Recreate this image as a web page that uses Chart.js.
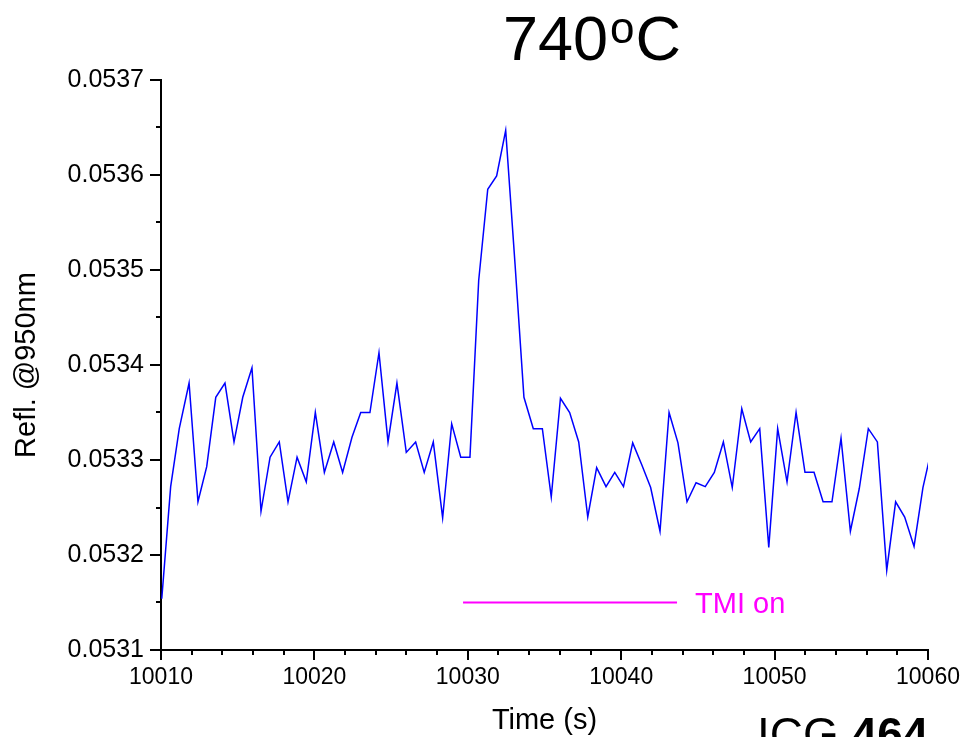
<!DOCTYPE html>
<html>
<head>
<meta charset="utf-8">
<title>740oC reflectance</title>
<script src="https://cdn.jsdelivr.net/npm/chart.js@4.4.1/dist/chart.umd.min.js"></script>
<style>
  html, body { margin: 0; padding: 0; background: #fff; }
  #wrap { width: 963px; height: 737px; position: relative; }
</style>
</head>
<body>
<div id="wrap"><canvas id="myChart"></canvas></div>
<script>
// time stamps (s) and reflectance at 950 nm
var times = [10010.05, 10010.63, 10011.19, 10011.83, 10012.41, 10012.98, 10013.57, 10014.17, 10014.76, 10015.33,
	10015.93, 10016.52, 10017.11, 10017.71, 10018.28, 10018.87, 10019.47, 10020.06, 10020.65, 10021.26,
	10021.84, 10022.45, 10023.02, 10023.62, 10024.21, 10024.80, 10025.38, 10025.99, 10026.60, 10027.16,
	10027.75, 10028.36, 10028.95, 10029.54, 10030.14, 10030.71, 10031.30, 10031.88, 10032.47, 10033.08,
	10033.66, 10034.27, 10034.86, 10035.44, 10036.04, 10036.64, 10037.23, 10037.82, 10038.40, 10039.01,
	10039.58, 10040.15, 10040.75, 10041.34, 10041.92, 10042.53, 10043.12, 10043.70, 10044.29, 10044.88,
	10045.48, 10046.07, 10046.66, 10047.24, 10047.86, 10048.44, 10049.03, 10049.62, 10050.20, 10050.81,
	10051.40, 10051.98, 10052.57, 10053.16, 10053.74, 10054.33, 10054.94, 10055.52, 10056.11, 10056.70,
	10057.31, 10057.89, 10058.48, 10059.09, 10059.67, 10060.26];
var refl = [0.053154, 0.053272, 0.053333, 0.053381, 0.053256, 0.053293, 0.053366, 0.053381, 0.053319, 0.053366,
	0.053397, 0.053246, 0.053303, 0.053319, 0.053256, 0.053303, 0.053277, 0.053350, 0.053287, 0.053319,
	0.053287, 0.053324, 0.053350, 0.053350, 0.053413, 0.053319, 0.053381, 0.053308, 0.053319, 0.053287,
	0.053319, 0.053239, 0.053338, 0.053303, 0.053303, 0.053489, 0.053585, 0.053599, 0.053647, 0.053506,
	0.053366, 0.053333, 0.053333, 0.053261, 0.053365, 0.053350, 0.053319, 0.053240, 0.053292, 0.053272,
	0.053287, 0.053272, 0.053318, 0.053295, 0.053271, 0.053225, 0.053350, 0.053318, 0.053256, 0.053276,
	0.053272, 0.053287, 0.053319, 0.053271, 0.053354, 0.053319, 0.053333, 0.053208, 0.053333, 0.053277,
	0.053350, 0.053287, 0.053287, 0.053256, 0.053256, 0.053323, 0.053225, 0.053270, 0.053333, 0.053319,
	0.053184, 0.053256, 0.053240, 0.053209, 0.053271, 0.053313];

// TMI marker bar
var tmiTimes = [10029.69, 10043.64];
var tmiLevel = [0.05315, 0.05315];

var xTickValues = [10010, 10020, 10030, 10040, 10050, 10060];
var yTickValues = [0.0531, 0.0532, 0.0533, 0.0534, 0.0535, 0.0536, 0.0537];

var FONT = "'Liberation Sans', Arial, Helvetica, sans-serif";

var series = times.map(function(t, i){ return { x: t, y: refl[i] }; });
var tmiLine = tmiTimes.map(function(t, i){ return { x: t, y: tmiLevel[i] }; });

// minor/major tick marks, titles and the TMI note
var extras = {
	id: 'extras',
	afterDraw: function(chart){
		var ctx = chart.ctx;
		var xs = chart.scales.x;
		var ys = chart.scales.y;
		var area = chart.chartArea;
		ctx.save();
		ctx.strokeStyle = '#000';
		ctx.lineWidth = 2;
		ctx.beginPath();
		for (var t = xs.min; t <= xs.max + 0.001; t += 2) {
			var px = Math.round(xs.getPixelForValue(t));
			var len = (Math.round(t) % 10 === 0) ? 10 : 5;
			ctx.moveTo(px, area.bottom);
			ctx.lineTo(px, area.bottom + len);
		}
		for (var i = 0; i <= 12; i++) {
			var py = Math.round(ys.getPixelForValue(ys.min + i * 0.00005));
			var ylen = (i % 2 === 0) ? 11 : 5;
			ctx.moveTo(area.left, py);
			ctx.lineTo(area.left - ylen, py);
		}
		ctx.stroke();

		ctx.fillStyle = '#000';
		ctx.textBaseline = 'alphabetic';

		// chart title 740oC
		ctx.textAlign = 'left';
		ctx.font = '63px ' + FONT;
		ctx.fillText('740', 503, 60);
		var w = ctx.measureText('740').width;
		ctx.font = '44px ' + FONT;
		ctx.fillText('o', 503 + w + 2, 43);
		var wo = ctx.measureText('o').width;
		ctx.font = '63px ' + FONT;
		ctx.fillText('C', 503 + w + wo + 3, 60);

		// axis titles
		ctx.font = '29px ' + FONT;
		ctx.textAlign = 'center';
		ctx.fillText('Time (s)', (area.left + area.right) / 2, 729);
		ctx.save();
		ctx.translate(35, (area.top + area.bottom) / 2);
		ctx.rotate(-Math.PI / 2);
		ctx.fillText('Refl. @950nm', 0, 0);
		ctx.restore();

		// TMI note
		ctx.fillStyle = '#FF00FF';
		ctx.textAlign = 'left';
		ctx.font = '29px ' + FONT;
		ctx.fillText('TMI on', xs.getPixelForValue(tmiTimes[1]) + 18, ys.getPixelForValue(tmiLevel[1]) + 10);

		// sample label
		ctx.fillStyle = '#000';
		ctx.font = '46px ' + FONT;
		ctx.fillText('ICG ', 757, 750);
		var wi = ctx.measureText('ICG ').width;
		ctx.font = 'bold 46px ' + FONT;
		ctx.fillText('464', 757 + wi, 750);
		ctx.restore();
	}
};

var ctx = document.getElementById('myChart').getContext('2d');
var chart = new Chart(ctx, {
	type: 'line',
	data: {
		datasets: [{
			data: series,
			borderColor: '#0000FF',
			borderWidth: 1.5,
			pointRadius: 0,
			tension: 0
		}, {
			data: tmiLine,
			borderColor: '#FF00FF',
			borderWidth: 2.2,
			pointRadius: 0,
			tension: 0
		}]
	},
	options: {
		responsive: true,
		maintainAspectRatio: false,
		animation: false,
		devicePixelRatio: 1,
		layout: { padding: { top: 80, right: 35, left: 0, bottom: 0 } },
		plugins: {
			legend: { display: false },
			tooltip: { enabled: false }
		},
		scales: {
			x: {
				type: 'linear',
				min: 10010,
				max: 10060,
				afterFit: function(scale){
					scale.height = 87;
					// the end labels may hang past the plot edges
					scale.paddingLeft = 0;
					scale.paddingRight = 0;
				},
				afterBuildTicks: function(scale){
					scale.ticks = xTickValues.map(function(v){ return { value: v }; });
				},
				ticks: {
					color: '#000',
					font: { family: FONT, size: 23 },
					padding: 14,
					maxRotation: 0,
					callback: function(v){ return String(v); }
				},
				grid: { drawOnChartArea: false, drawTicks: false },
				border: { display: true, color: '#000', width: 2 }
			},
			y: {
				min: 0.0531,
				max: 0.0537,
				afterFit: function(scale){
					scale.width = 161;
					scale.paddingTop = 0;
					scale.paddingBottom = 0;
				},
				afterBuildTicks: function(scale){
					scale.ticks = yTickValues.map(function(v){ return { value: v }; });
				},
				ticks: {
					color: '#000',
					font: { family: FONT, size: 25 },
					padding: 17,
					callback: function(v){ return v.toFixed(4); }
				},
				grid: { drawOnChartArea: false, drawTicks: false },
				border: { display: true, color: '#000', width: 2 }
			}
		}
	},
	plugins: [extras]
});
</script>
</body>
</html>
